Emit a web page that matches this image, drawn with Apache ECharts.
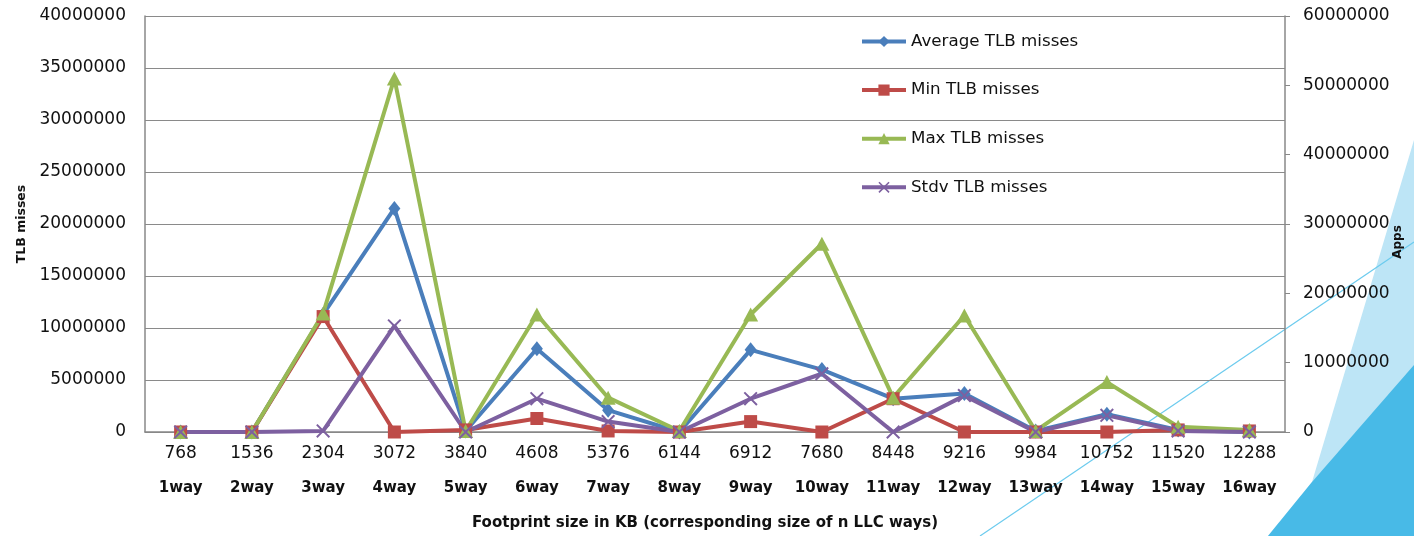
<!DOCTYPE html>
<html>
<head>
<meta charset="utf-8">
<script src="https://cdn.jsdelivr.net/npm/echarts@6/dist/echarts.min.js"></script>
<style>
html,body{margin:0;padding:0;background:#fff;}
#chart{width:1414px;height:536px;}
</style>
</head>
<body>
<div id="chart"></div>
<script>
const sizes = ['768','1536','2304','3072','3840','4608','5376','6144','6912','7680','8448','9216','9984','10752','11520','12288'];
const ways = ['1way','2way','3way','4way','5way','6way','7way','8way','9way','10way','11way','12way','13way','14way','15way','16way'];
const seriesNames = ['Average TLB misses','Min TLB misses','Max TLB misses','Stdv TLB misses'];
const avgMisses  = [0, 0, 11300000, 21500000, 100000, 8000000, 2100000, 0, 7900000, 6000000, 3200000, 3700000, 100000, 1700000, 200000, 0];
const minMisses  = [0, 0, 11100000, 0, 200000, 1300000, 100000, 0, 1000000, 0, 3200000, 0, 0, 0, 200000, 100000];
const maxMisses  = [0, 0, 11400000, 34000000, 100000, 11300000, 3300000, 100000, 11300000, 18100000, 3300000, 11200000, 100000, 4800000, 500000, 200000];
const stdvMisses = [0, 0, 100000, 10200000, 0, 3200000, 1000000, 0, 3200000, 5600000, 0, 3500000, 0, 1600000, 100000, 0];
const leftTicks = {min: 0, max: 40000000, interval: 5000000};
const rightTicks = {min: 0, max: 60000000, interval: 10000000};

const FONT = 'DejaVu Sans';
const xSymbol = 'path://M0,1 L1,0 L5,4 L9,0 L10,1 L6,5 L10,9 L9,10 L5,6 L1,10 L0,9 L4,5 Z';
const colors = ['#4A7EBB', '#BE4B48', '#98B954', '#7D60A0'];
const plain = function (v) { return String(v); };

function lineSeries(name, data, color, symbol, size) {
  return {
    name: name, type: 'line', data: data,
    symbol: symbol, symbolSize: size, showSymbol: true,
    lineStyle: {color: color, width: 4},
    itemStyle: {color: color},
    emphasis: {disabled: true},
    animation: false, clip: false
  };
}

const chart = echarts.init(document.getElementById('chart'));
chart.setOption({
  animation: false,
  backgroundColor: '#fff',
  grid: {left: 145, right: 129, top: 16, bottom: 103},
  legend: {
    orient: 'vertical', left: 855, top: 28,
    itemWidth: 44, itemHeight: 14, itemGap: 31.6,
    data: seriesNames,
    lineStyle: {width: 4},
    textStyle: {fontFamily: FONT, fontSize: 16.7, color: '#111'},
    selectedMode: false
  },
  xAxis: {
    type: 'category', data: sizes,
    axisLine: {lineStyle: {color: '#888', width: 1.5}},
    axisTick: {show: false},
    axisLabel: {
      margin: 5, interval: 0,
      formatter: function (v, i) { return '{a|' + v + '}\n{b|' + ways[i] + '}'; },
      rich: {
        a: {fontFamily: FONT, fontSize: 17, color: '#111', lineHeight: 34},
        b: {fontFamily: FONT, fontSize: 15, fontWeight: 'bold', color: '#111', lineHeight: 34}
      }
    },
    name: 'Footprint size in KB (corresponding size of n LLC ways)',
    nameLocation: 'middle', nameGap: 84,
    nameTextStyle: {fontFamily: FONT, fontSize: 15, fontWeight: 'bold', color: '#111', padding: [0, 20, 0, 0]}
  },
  yAxis: [{
    type: 'value', min: leftTicks.min, max: leftTicks.max, interval: leftTicks.interval,
    axisLine: {show: true, lineStyle: {color: '#888', width: 1.5}},
    axisTick: {show: false},
    splitLine: {lineStyle: {color: '#8a8a8a', width: 1.2}},
    axisLabel: {margin: 19, fontFamily: FONT, fontSize: 17, color: '#111', formatter: plain},
    name: 'TLB misses', nameLocation: 'middle', nameGap: 115,
    nameTextStyle: {fontFamily: FONT, fontSize: 12.5, fontWeight: 'bold', color: '#111'}
  }, {
    type: 'value', position: 'right', min: rightTicks.min, max: rightTicks.max, interval: rightTicks.interval,
    axisLine: {show: true, lineStyle: {color: '#888', width: 1.5}},
    axisTick: {show: true, inside: false, length: 5, lineStyle: {color: '#888'}},
    splitLine: {show: false},
    axisLabel: {margin: 18, fontFamily: FONT, fontSize: 17, color: '#111', formatter: plain}
  }],
  graphic: [
    {type: 'polygon', z: -1, shape: {points: [[1414,140],[1312,482],[1268,536],[1414,536]]}, style: {fill: '#BDE5F6'}},
    {type: 'polygon', z: -1, shape: {points: [[1268,536],[1312,482],[1414,365],[1414,536]]}, style: {fill: '#48BAE7'}},
    {type: 'line', z: -1, shape: {x1: 980, y1: 536, x2: 1414, y2: 242}, style: {stroke: '#6CCBEE', lineWidth: 1.2}},
    {type: 'text', x: 1398, y: 242, rotation: Math.PI / 2,
     style: {text: 'Apps', fontFamily: FONT, fontSize: 12, fontWeight: 'bold', fill: '#111', align: 'center', verticalAlign: 'middle'}}
  ],
  series: [
    lineSeries(seriesNames[0], avgMisses, colors[0], 'diamond', [12, 15]),
    lineSeries(seriesNames[1], minMisses, colors[1], 'rect', 13),
    lineSeries(seriesNames[2], maxMisses, colors[2], 'triangle', [15, 14]),
    lineSeries(seriesNames[3], stdvMisses, colors[3], xSymbol, 14)
  ]
});
</script>
</body>
</html>
